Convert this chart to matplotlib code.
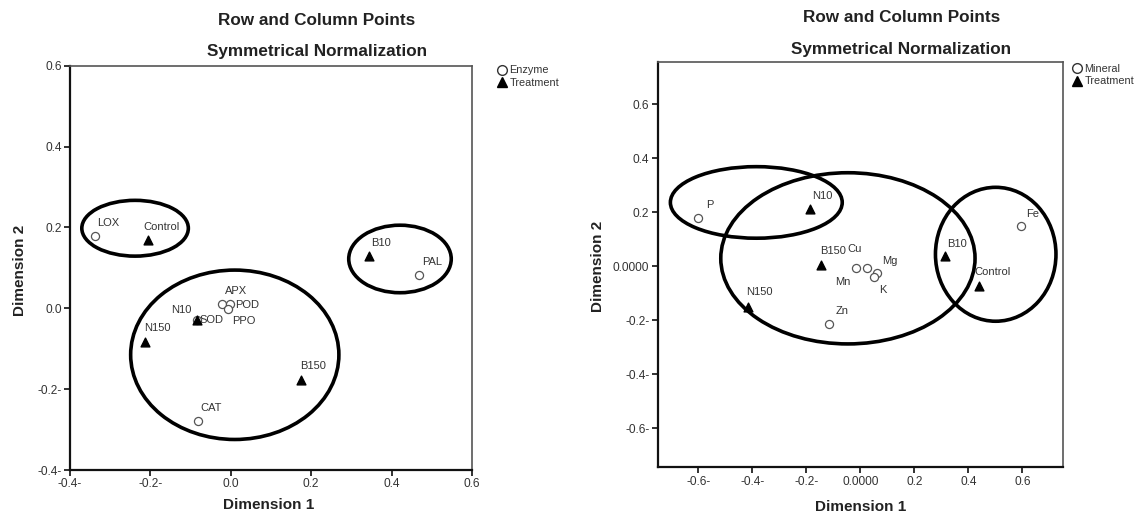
import matplotlib
matplotlib.use("Agg")
import matplotlib.pyplot as plt
from matplotlib.patches import Ellipse
from matplotlib.lines import Line2D

plt.rcParams['font.family'] = ['Liberation Sans', 'DejaVu Sans']

# ---- left panel data: enzymes vs treatment ----
enz_names = ["LOX", "PAL", "APX", "POD", "PPO", "SOD", "CAT"]
enz_x = [-0.337, 0.469, -0.023, -0.002, -0.006, -0.085, -0.081]
enz_y = [0.180, 0.082, 0.010, 0.010, -0.002, -0.030, -0.279]

trtL_names = ["Control", "B10", "N10", "N150", "B150"]
trtL_x = [-0.207, 0.343, -0.084, -0.214, 0.174]
trtL_y = [0.168, 0.130, -0.030, -0.083, -0.177]

# ellipses (cx, cy, w, h) grouping points
ellL_cx = [-0.238, 0.421, 0.010]
ellL_cy = [0.198, 0.122, -0.115]
ellL_w = [0.265, 0.255, 0.518]
ellL_h = [0.138, 0.167, 0.419]

# ---- right panel data: minerals vs treatment ----
min_names = ["P", "Fe", "Mn", "Cu", "Mg", "K", "Zn"]
min_x = [-0.600, 0.593, -0.017, 0.026, 0.060, 0.050, -0.117]
min_y = [0.178, 0.147, -0.007, -0.005, -0.026, -0.042, -0.214]

trtR_names = ["N10", "B10", "Control", "B150", "N150"]
trtR_x = [-0.187, 0.312, 0.441, -0.145, -0.415]
trtR_y = [0.211, 0.038, -0.074, 0.006, -0.150]

ellR_cx = [-0.385, -0.046, 0.501]
ellR_cy = [0.236, 0.029, 0.044]
ellR_w = [0.636, 0.941, 0.446]
ellR_h = [0.265, 0.634, 0.496]

# tick labels as printed by SPSS
xticksL = [-0.4, -0.2, 0.0, 0.2, 0.4, 0.6]
xlabsL = ["-0.4-", "-0.2-", "0.0", "0.2", "0.4", "0.6"]
yticksL = [-0.4, -0.2, 0.0, 0.2, 0.4, 0.6]
ylabsL = ["-0.4-", "-0.2-", "0.0", "0.2", "0.4", "0.6"]
xticksR = [-0.6, -0.4, -0.2, 0.0, 0.2, 0.4, 0.6]
xlabsR = ["-0.6-", "-0.4-", "-0.2-", "0.0000", "0.2", "0.4", "0.6"]
yticksR = [-0.6, -0.4, -0.2, 0.0, 0.2, 0.4, 0.6]
ylabsR = ["-0.6-", "-0.4-", "-0.2-", "0.0000", "0.2", "0.4", "0.6"]

# label offsets in pixels (dx, dy, ha)
offL = {"LOX": (2, 13, 'left'), "PAL": (3, 13, 'left'), "APX": (3, 13, 'left'),
        "POD": (5, -1, 'left'), "PPO": (4, -12, 'left'), "SOD": (3, 0, 'left'),
        "CAT": (2, 13, 'left'), "Control": (-4, 13, 'left'), "B10": (2, 13, 'left'),
        "N10": (-5, 10, 'right'), "N150": (-1, 14, 'left'), "B150": (-1, 14, 'left')}
offR = {"P": (8, 13, 'left'), "Fe": (6, 12, 'left'), "Mn": (-5, -14, 'right'),
        "Cu": (-20, 19, 'left'), "Mg": (6, 12, 'left'), "K": (5, -13, 'left'),
        "Zn": (7, 13, 'left'), "N10": (2, 13, 'left'), "B10": (2, 12, 'left'),
        "Control": (-5, 14, 'left'), "B150": (-1, 14, 'left'), "N150": (-2, 15, 'left')}

TXT = '#333333'
fig = plt.figure(figsize=(11.43, 5.17), dpi=100)


def panel(rect, xlim, ylim, xt, xl, yt, yl, cn, cx, cy, tn, tx, ty,
          ex, ey, ew, eh, offs):
    ax = fig.add_axes(rect)
    ax.set_xlim(*xlim)
    ax.set_ylim(*ylim)
    ax.set_xticks(xt)
    ax.set_xticklabels(xl)
    ax.set_yticks(yt)
    ax.set_yticklabels(yl)
    ax.tick_params(direction='out', length=4, width=1.3, color='#222222',
                   labelsize=8.6, labelcolor=TXT, pad=2)
    for s in ['top', 'right']:
        ax.spines[s].set_color('#555555')
        ax.spines[s].set_linewidth(1.2)
    for s in ['left', 'bottom']:
        ax.spines[s].set_color('#111111')
        ax.spines[s].set_linewidth(1.6)
    for a, b, w, h in zip(ex, ey, ew, eh):
        ax.add_patch(Ellipse((a, b), w, h, fill=False, edgecolor='black',
                             linewidth=2.6, zorder=2))
    ax.scatter(cx, cy, s=34, marker='o', facecolor='white', edgecolor='#555555',
               linewidth=0.9, zorder=3)
    ax.scatter(tx, ty, s=40, marker='^', color='black', zorder=4)
    for names, xs, ys in [(cn, cx, cy), (tn, tx, ty)]:
        for n, a, b in zip(names, xs, ys):
            dx, dy, ha = offs[n]
            ax.annotate(n, (a, b), xytext=(dx, dy), textcoords='offset pixels',
                        ha=ha, va='center', fontsize=8, color=TXT, zorder=5)
    return ax


axL = panel([0.0612, 0.0909, 0.3517, 0.782], (-0.4, 0.6), (-0.4, 0.6),
            xticksL, xlabsL, yticksL, ylabsL, enz_names, enz_x, enz_y,
            trtL_names, trtL_x, trtL_y, ellL_cx, ellL_cy, ellL_w, ellL_h, offL)
axR = panel([0.5754, 0.0961, 0.3546, 0.7834], (-0.75, 0.75), (-0.745, 0.755),
            xticksR, xlabsR, yticksR, ylabsR, min_names, min_x, min_y,
            trtR_names, trtR_x, trtR_y, ellR_cx, ellR_cy, ellR_w, ellR_h, offR)

# titles and axis labels
W, H = 1143.0, 517.0
for cxp, y1, y2 in [(316.8, 20.7, 51.7), (901.5, 17.3, 49.3)]:
    fig.text(cxp / W, 1 - y1 / H, "Row and Column Points", ha='center', va='center',
             fontsize=12.3, fontweight='bold', color='#222222')
    fig.text(cxp / W, 1 - y2 / H, "Symmetrical Normalization", ha='center', va='center',
             fontsize=12.3, fontweight='bold', color='#222222')
for xp, yp in [(269, 504.7), (861, 507.3)]:
    fig.text(xp / W, 1 - yp / H, "Dimension 1", ha='center', va='center',
             fontsize=11, fontweight='bold', color='#222222')
for xp, yp in [(20, 270), (597.7, 266)]:
    fig.text(xp / W, 1 - yp / H, "Dimension 2", ha='center', va='center',
             rotation=90, fontsize=11, fontweight='bold', color='#222222')

# legends
for lbl, xp, yp in [("Enzyme", 507, 73.3), ("Mineral", 1082, 71.7)]:
    handles = [Line2D([], [], marker='o', ls='none', markersize=7, markerfacecolor='white',
                      markeredgecolor='#333333', markeredgewidth=1.0),
               Line2D([], [], marker='^', ls='none', markersize=7, color='black')]
    fig.legend(handles, [lbl, "Treatment"], loc='upper left',
               bbox_to_anchor=((xp - 9) / W, 1 - (yp - 8) / H), frameon=False,
               fontsize=7.8, handlelength=0.8, handletextpad=0.25, labelspacing=0.25,
               borderpad=0, borderaxespad=0, labelcolor=TXT)

fig.savefig("out.png", dpi=100)
